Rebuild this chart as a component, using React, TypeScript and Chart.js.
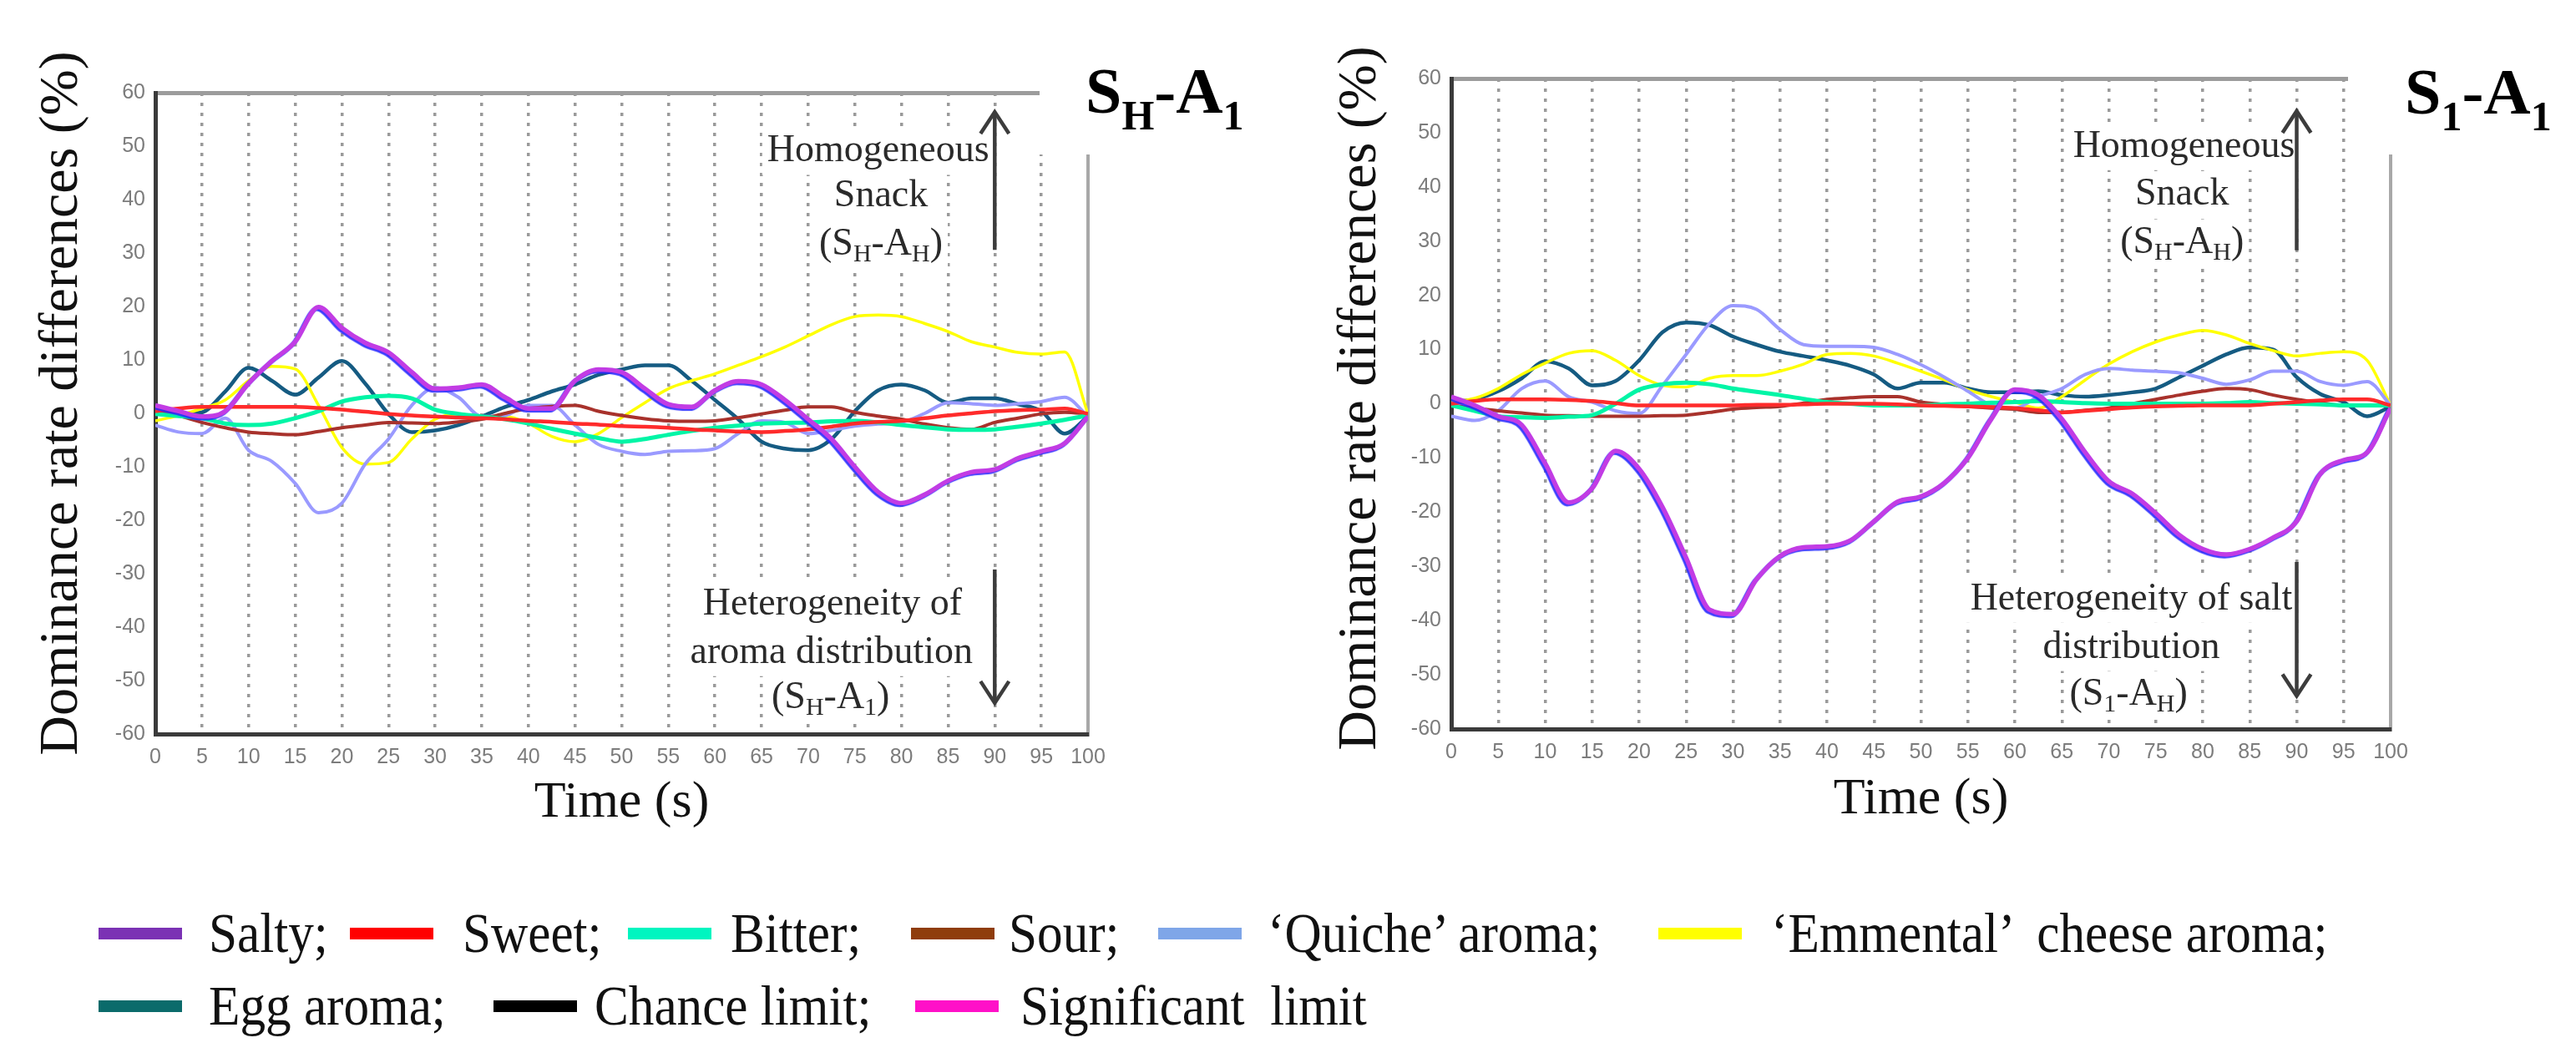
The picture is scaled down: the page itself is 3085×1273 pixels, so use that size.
import React, { useEffect, useRef } from "react";
import { Chart, registerables } from "chart.js";

Chart.register(...registerables);

// ---- data ----
const TIME = [0, 2.5, 5, 7.5, 10, 12.5, 15, 17.5, 20, 22.5, 25, 27.5, 30, 32.5, 35, 37.5, 40, 42.5, 45, 47.5, 50,
  52.5, 55, 57.5, 60, 62.5, 65, 67.5, 70, 72.5, 75, 77.5, 80, 82.5, 85, 87.5, 90, 92.5, 95, 97.5, 100];
const X_TICKS = [0, 5, 10, 15, 20, 25, 30, 35, 40, 45, 50, 55, 60, 65, 70, 75, 80, 85, 90, 95, 100];
const Y_TICKS = [-60, -50, -40, -30, -20, -10, 0, 10, 20, 30, 40, 50, 60];

const SERIES = ["Salty", "Sweet", "Bitter", "Sour", "‘Quiche’ aroma", "‘Emmental’ cheese aroma", "Egg aroma"];

// S_H-A_1
const SHA1_SALTY = [1.5, 0.4, -0.6, 0.4, 5.6, 9.8, 13.4, 19.9, 16, 13.2, 11.4, 7.7, 4.6, 4.8, 5.4, 3, 0.9, 0.9, 6.1, 8.2, 7.7,
  4.6, 1.7, 1.2, 4.3, 6, 5.4, 2.5, -1.1, -4.8, -10, -14.7, -16.8, -15.2, -12.6, -11, -10.5, -8.4, -7.1, -5.6, -0.6];
const SHA1_SWEET = [0.4, 0.9, 1.2, 1.2, 1.2, 1.2, 1.2, 1, 0.7, 0.3, -0.1, -0.4, -0.6, -0.8, -0.9, -1.1, -1.4, -1.6, -1.9, -2.1, -2.4,
  -2.5, -2.7, -3, -3.2, -3.4, -3.5, -3.3, -3, -2.5, -1.9, -1.6, -1.4, -0.9, -0.4, 0, 0.4, 0.6, 0.7, 0.9, -0.1];
const SHA1_BITTER = [-0.1, -0.5, -0.9, -1.9, -2.2, -1.9, -0.9, 0.4, 2.2, 3, 3.3, 2.8, 0.7, -0.1, -0.6, -1.1, -1.9, -2.9, -3.8, -4.6, -5.3,
  -4.8, -4, -3.3, -2.7, -2.3, -1.9, -1.8, -1.7, -1.5, -1.4, -1.7, -2.2, -2.6, -3, -3.1, -3, -2.5, -1.9, -1.2, -0.4];
const SHA1_SOUR = [0.9, -0.4, -1.7, -2.7, -3.5, -3.8, -4, -3.4, -2.7, -2.2, -1.7, -1.8, -1.9, -1.6, -1.1, 0, 0.9, 1.3, 1.5, 0.4, -0.4,
  -1, -1.4, -1.5, -1.4, -0.8, -0.1, 0.6, 1.2, 1.2, 0.2, -0.5, -1.1, -2, -2.7, -3, -1.7, -0.9, -0.1, 0.2, -0.1];
const SHA1_QUICHE = [-2.2, -3.5, -3.8, -0.9, -6.9, -9, -13.1, -18.6, -16.8, -9.5, -4.8, 1.5, 4.8, 3, -0.6, -0.4, 1.5, 1.5, -2.2, -5.8, -7.1,
  -7.7, -7.1, -7, -6.6, -3.8, -1.4, -1.7, -3.8, -3.2, -2.4, -2, -1.7, 0, 2, 1.8, 1.5, 1.8, 2.2, 3, -0.6];
const SHA1_EMMENTAL = [-1.4, -0.4, 0.9, 2.5, 6.1, 8.8, 8.3, 1.5, -6.4, -9.5, -9.2, -4.8, -1.1, -0.1, -0.6, -0.6, -1.9, -4.3, -5.3, -3.8, -0.8,
  2, 4.6, 6.1, 7.4, 9, 10.6, 12.4, 14.5, 16.6, 18.1, 18.4, 18.1, 16.8, 15.3, 13.4, 12.4, 11.4, 11.1, 11.5, -0.1];
const SHA1_EGG = [0.4, -0.1, 0.2, 4.1, 8.5, 6.1, 3.5, 6.7, 9.8, 5.6, -0.1, -3.5, -3.2, -2.2, -0.6, 1.2, 2.5, 4.1, 5.4, 7.2, 8.2,
  9, 9, 6.1, 2.5, -1.1, -5.3, -6.6, -6.9, -4.8, 0.4, 4.3, 5.4, 4.3, 2, 2.8, 2.8, 1.7, 0.4, -3.8, -0.6];

// S_1-A_1
const S1A1_SALTY = [1.3, -0.3, -2.3, -3.9, -11, -18.2, -15.6, -8.7, -12, -19.1, -28.4, -38, -38.8, -32.4, -28.1, -26.5, -26.3, -25.2, -21.7, -18.1, -17.1,
  -14.6, -10, -2.8, 2.6, 1.6, -2.8, -9, -14.3, -16.6, -20.2, -24.2, -26.8, -27.8, -26.8, -24.7, -21.7, -13, -10.4, -9, -0.8];
const S1A1_SWEET = [0, 0.5, 0.8, 0.8, 0.8, 0.7, 0.5, 0.1, -0.3, -0.3, -0.3, -0.3, -0.3, -0.2, -0.2, -0.1, 0, 0, 0, -0.1, -0.3,
  -0.4, -0.5, -0.6, -0.8, -1.2, -1.6, -1.3, -1, -0.7, -0.5, -0.4, -0.3, -0.3, -0.3, 0, 0.3, 0.6, 0.8, 0.8, -0.3];
const S1A1_BITTER = [-0.3, -1.3, -2.3, -2.5, -2.6, -2.4, -2.1, 0, 2.6, 3.6, 3.9, 3.6, 2.8, 2.2, 1.6, 0.9, 0.3, 0, -0.3, -0.3, -0.3,
  -0.1, 0, 0.2, 0.3, 0.5, 0.3, 0.1, 0, 0, 0, 0, 0, 0.1, 0.3, 0.1, 0, -0.1, -0.3, -0.3, -0.3];
const S1A1_SOUR = [-0.3, -0.8, -1.3, -1.7, -2.1, -2.2, -2.3, -2.3, -2.3, -2.2, -2.1, -1.6, -1, -0.7, -0.5, 0.1, 0.8, 1.1, 1.3, 1.3, 0.3,
  -0.1, -0.5, -0.8, -1, -1.6, -1.6, -1.2, -0.8, 0, 0.8, 1.6, 2.3, 2.8, 2.6, 1.6, 0.8, 0.2, -0.3, -0.3, -0.3];
const S1A1_QUICHE = [-2.3, -3.1, -1.3, 2.8, 4.2, 1.3, 0.3, -1.3, -1.8, 3.4, 9.1, 14.8, 18.1, 17.4, 13.7, 10.9, 10.6, 10.6, 10.4, 9.1, 7.2,
  4.9, 2.3, -0.3, -0.8, 1.3, 2.8, 5.4, 6.5, 6.2, 6, 5.7, 4.7, 3.6, 4.4, 6, 6, 4.1, 3.4, 4.1, -0.3];
const S1A1_EMMENTAL = [0.3, 1, 2.8, 5.4, 7.5, 9.3, 9.8, 8, 5.2, 3.4, 3.1, 4.7, 5.2, 5.2, 6, 7.3, 9.1, 9.3, 8.8, 7.5, 6,
  4.4, 2.6, 1.3, 0.3, -0.8, 1.3, 4.4, 7.3, 9.6, 11.4, 12.7, 13.5, 12.7, 11.1, 9.8, 8.8, 9.3, 9.6, 8, -0.3];
const S1A1_EGG = [0.3, 0.8, 2.3, 4.7, 7.8, 6.5, 3.4, 4.2, 8, 13.2, 15, 14.5, 12.4, 10.9, 9.6, 8.8, 8, 7, 5.4, 2.8, 3.9,
  3.9, 2.8, 2.1, 2.1, 2.3, 1.6, 1.3, 1.6, 2.1, 2.8, 4.9, 7, 9.1, 10.4, 10, 4.9, 1.8, 0.3, -2.3, -0.5];

const LEGEND_LABELS = ["Salty;", "Sweet;", "Bitter;", "Sour;", "‘Quiche’ aroma;", "‘Emmental’  cheese aroma;",
  "Egg aroma;", "Chance limit;", "Significant  limit"];

// ---- styles ----
const SERIF = '"Liberation Serif", "Times New Roman", serif';
const TICK_FONT = '"Liberation Sans", Arial, sans-serif';
const Y_TITLE = "Dominance rate differences (%)";

const SERIES_COLORS = ["#c23ce4", "#ff2b2b", "#00f5a6", "#a8322c", "#9a9aff", "#ffff00", "#155b82"];
const SERIES_WIDTHS = [5.5, 4.5, 5, 4, 4, 3.5, 4.5];
const LEGEND_COLORS = ["#7b32b4", "#ff0000", "#00f5c0", "#8f3d0c", "#7fa6e8", "#ffff00", "#0b6b6b", "#000000", "#ff10c8"];
// swatch x, text x, row centre y
const LEGEND_POS = [
  [118, 250, 1118], [419, 554, 1118], [752, 875, 1118], [1091, 1208, 1118], [1387, 1518, 1118], [1986, 2121, 1118],
  [118, 250, 1205], [591, 712, 1205], [1096, 1222, 1205],
];

type Run = [string, boolean]; // text, subscript
type Note = { x: number; y: number; runs: Run[] };
type Arrow = { x: number; from: number; to: number };

type PanelSpec = {
  series: number[][];
  label: Run[];
  notes: Note[];
  arrows: Arrow[];
  box: { left: number; width: number; height: number; yAxisWidth: number; top: number; right: number; bottom: number };
  xTitlePad: number;
  yTitle: { x: number; y: number };
  labelPos: { x: number; y: number };
  corner: { x: number; y: number };
};

const LEFT: PanelSpec = {
  series: [SHA1_SALTY, SHA1_SWEET, SHA1_BITTER, SHA1_SOUR, SHA1_QUICHE, SHA1_EMMENTAL, SHA1_EGG],
  label: [["S", false], ["H", true], ["-A", false], ["1", true]],
  notes: [
    { x: 77.5, y: 49, runs: [["Homogeneous", false]] },
    { x: 77.8, y: 40.6, runs: [["Snack", false]] },
    { x: 77.8, y: 31.5, runs: [["(S", false], ["H", true], ["-A", false], ["H", true], [")", false]] },
    { x: 72.6, y: -35.8, runs: [["Heterogeneity of", false]] },
    { x: 72.5, y: -44.8, runs: [["aroma distribution", false]] },
    { x: 72.4, y: -53.3, runs: [["(S", false], ["H", true], ["-A", false], ["1", true], [")", false]] },
  ],
  arrows: [{ x: 90, from: 30.6, to: 56.4 }, { x: 90, from: -29.2, to: -54.2 }],
  box: { left: 0, width: 1540, height: 1030, yAxisWidth: 186, top: 111, right: 237, bottom: 11 },
  xTitlePad: 20,
  yTitle: { x: 75, y: 483 },
  labelPos: { x: 1300, y: 135 },
  corner: { x: 1245, y: 185 },
};

const RIGHT: PanelSpec = {
  series: [S1A1_SALTY, S1A1_SWEET, S1A1_BITTER, S1A1_SOUR, S1A1_QUICHE, S1A1_EMMENTAL, S1A1_EGG],
  label: [["S", false], ["1", true], ["-A", false], ["1", true]],
  notes: [
    { x: 78, y: 47.4, runs: [["Homogeneous", false]] },
    { x: 77.8, y: 38.6, runs: [["Snack", false]] },
    { x: 77.8, y: 29.7, runs: [["(S", false], ["H", true], ["-A", false], ["H", true], [")", false]] },
    { x: 72.4, y: -36.1, runs: [["Heterogeneity of salt", false]] },
    { x: 72.4, y: -45, runs: [["distribution", false]] },
    { x: 72.1, y: -53.7, runs: [["(S", false], ["1", true], ["-A", false], ["H", true], [")", false]] },
  ],
  arrows: [{ x: 90, from: 28.3, to: 54 }, { x: 90, from: -29.2, to: -53.9 }],
  box: { left: 1545, width: 1540, height: 1030, yAxisWidth: 193, top: 94, right: 222, bottom: 17 },
  xTitlePad: 18,
  yTitle: { x: 85, y: 477 },
  labelPos: { x: 1335, y: 136 },
  corner: { x: 1267, y: 185 },
};

function drawRuns(ctx: CanvasRenderingContext2D, runs: Run[], x: number, y: number,
  big: number, small: number, drop: number, weight: string) {
  let cx = x;
  for (const [t, sub] of runs) {
    ctx.font = `${weight}${sub ? small : big}px ${SERIF}`;
    ctx.fillText(t, cx, sub ? y + drop : y);
    cx += ctx.measureText(t).width;
  }
  return cx - x;
}

function runsWidth(ctx: CanvasRenderingContext2D, runs: Run[], big: number, small: number, weight: string) {
  let w = 0;
  for (const [t, sub] of runs) {
    ctx.font = `${weight}${sub ? small : big}px ${SERIF}`;
    w += ctx.measureText(t).width;
  }
  return w;
}

function makeDecor(spec: PanelSpec) {
  return {
    id: "decor",
    beforeDatasetDraw(chart: any, args: any) {
      if (args.index !== 0) return;
      const c = chart.ctx;
      c.save();
      c.shadowColor = "rgba(40,40,255,0.9)";
      c.shadowOffsetX = -2;
      c.shadowOffsetY = 2;
      c.shadowBlur = 1;
    },
    afterDatasetDraw(chart: any, args: any) {
      if (args.index === 0) chart.ctx.restore();
    },
    afterDraw(chart: any) {
      const ctx: CanvasRenderingContext2D = chart.ctx;
      const { x, y } = chart.scales;
      ctx.save();

      // white patch behind the corner label
      ctx.fillStyle = "#fff";
      ctx.fillRect(spec.corner.x, 0, chart.width - spec.corner.x, spec.corner.y);
      ctx.fillStyle = "#000";
      ctx.textAlign = "left";
      ctx.textBaseline = "alphabetic";
      drawRuns(ctx, spec.label, spec.labelPos.x, spec.labelPos.y, 78, 50, 20, "bold ");

      // y title (drawn here so it is not squeezed to the axis height)
      ctx.save();
      ctx.translate(spec.yTitle.x, spec.yTitle.y);
      ctx.rotate(-Math.PI / 2);
      ctx.font = `66px ${SERIF}`;
      ctx.fillStyle = "#111";
      ctx.textAlign = "center";
      ctx.textBaseline = "middle";
      ctx.fillText(Y_TITLE, 0, 0);
      ctx.restore();

      // annotations
      ctx.textBaseline = "middle";
      for (const n of spec.notes) {
        const cx = x.getPixelForValue(n.x);
        const cy = y.getPixelForValue(n.y);
        const w = runsWidth(ctx, n.runs, 46, 30, "");
        ctx.fillStyle = "#fff";
        ctx.fillRect(cx - w / 2 - 6, cy - 28, w + 12, 56);
        ctx.fillStyle = "#2a2a2a";
        drawRuns(ctx, n.runs, cx - w / 2, cy, 46, 30, 12, "");
      }

      // arrows
      ctx.strokeStyle = "#3c3c3c";
      ctx.lineWidth = 4.5;
      for (const a of spec.arrows) {
        const px = x.getPixelForValue(a.x);
        const y0 = y.getPixelForValue(a.from);
        const y1 = y.getPixelForValue(a.to);
        const dir = y1 < y0 ? 1 : -1;
        ctx.beginPath();
        ctx.moveTo(px, y0);
        ctx.lineTo(px, y1);
        ctx.stroke();
        ctx.beginPath();
        ctx.moveTo(px - 17, y1 + dir * 26);
        ctx.lineTo(px, y1);
        ctx.lineTo(px + 17, y1 + dir * 26);
        ctx.stroke();
      }
      ctx.restore();
    },
  };
}

function Panel({ spec }: { spec: PanelSpec }) {
  const canvasRef = useRef<HTMLCanvasElement | null>(null);

  useEffect(() => {
    if (!canvasRef.current) return;
    const b = spec.box;
    const chart = new Chart(canvasRef.current, {
      type: "line",
      data: {
        datasets: spec.series.map((values, i) => ({
          label: SERIES[i],
          data: TIME.map((t, k) => ({ x: t, y: values[k] })),
          borderColor: SERIES_COLORS[i],
          borderWidth: SERIES_WIDTHS[i],
          pointRadius: 0,
          fill: false,
          cubicInterpolationMode: "monotone" as const,
        })),
      },
      options: {
        responsive: false,
        animation: false,
        devicePixelRatio: 1,
        events: [],
        layout: { padding: { left: 0, top: b.top, right: b.right, bottom: b.bottom } },
        plugins: { legend: { display: false }, tooltip: { enabled: false } },
        scales: {
          x: {
            type: "linear",
            min: 0,
            max: 100,
            afterBuildTicks: (s: any) => { s.ticks = X_TICKS.map((value) => ({ value })); },
            afterFit: (s: any) => { s.height = 140; },
            ticks: { color: "#7c7c7c", padding: 13, font: { family: TICK_FONT, size: 25 }, maxRotation: 0, autoSkip: false },
            grid: {
              drawTicks: false,
              color: (c: any) => (c.tick?.value === 0 ? "rgba(0,0,0,0)" : c.tick?.value === 100 ? "#a8a8a8" : "#9a9a9a"),
              lineWidth: (c: any) => (c.tick?.value === 100 ? 4 : 3.5),
            },
            border: {
              display: true,
              color: "#3a3a3a",
              width: 5,
              dash: (c: any) => (c.tick?.value === 100 ? [] : [4, 8]),
            },
            title: {
              display: true,
              text: "Time (s)",
              color: "#111",
              font: { family: SERIF, size: 62 },
              padding: { top: 0, bottom: spec.xTitlePad },
            },
          },
          y: {
            type: "linear",
            min: -60,
            max: 60,
            afterBuildTicks: (s: any) => { s.ticks = Y_TICKS.map((value) => ({ value })); },
            afterFit: (s: any) => { s.width = b.yAxisWidth; },
            ticks: { color: "#7c7c7c", padding: 12, font: { family: TICK_FONT, size: 25 } },
            grid: {
              drawTicks: false,
              color: (c: any) => (c.tick?.value === 60 ? "#9c9c9c" : "rgba(0,0,0,0)"),
              lineWidth: 5,
            },
            border: { display: true, color: "#3a3a3a", width: 5 },
          },
        },
      },
      plugins: [makeDecor(spec)],
    } as any);
    return () => chart.destroy();
  }, [spec]);

  const b = spec.box;
  return (
    <canvas
      ref={canvasRef}
      width={b.width}
      height={b.height}
      style={{ position: "absolute", left: b.left, top: 0, width: b.width, height: b.height }}
    />
  );
}

export default function App() {
  return (
    <div style={{ position: "absolute", left: 0, top: 0, width: 3085, height: 1273, background: "#fff", overflow: "hidden" }}>
      <Panel spec={LEFT} />
      <Panel spec={RIGHT} />
      {LEGEND_LABELS.map((label, i) => {
        const [sx, tx, cy] = LEGEND_POS[i];
        return (
          <React.Fragment key={label}>
            <div style={{ position: "absolute", left: sx, top: cy - 7, width: 100, height: 14, background: LEGEND_COLORS[i] }} />
            <div
              style={{
                position: "absolute",
                left: tx,
                top: cy - 40,
                height: 80,
                lineHeight: "80px",
                font: `68px ${SERIF}`,
                color: "#111",
                whiteSpace: "pre",
                transform: "scaleX(0.9)",
                transformOrigin: "left center",
              }}
            >
              {label}
            </div>
          </React.Fragment>
        );
      })}
    </div>
  );
}
